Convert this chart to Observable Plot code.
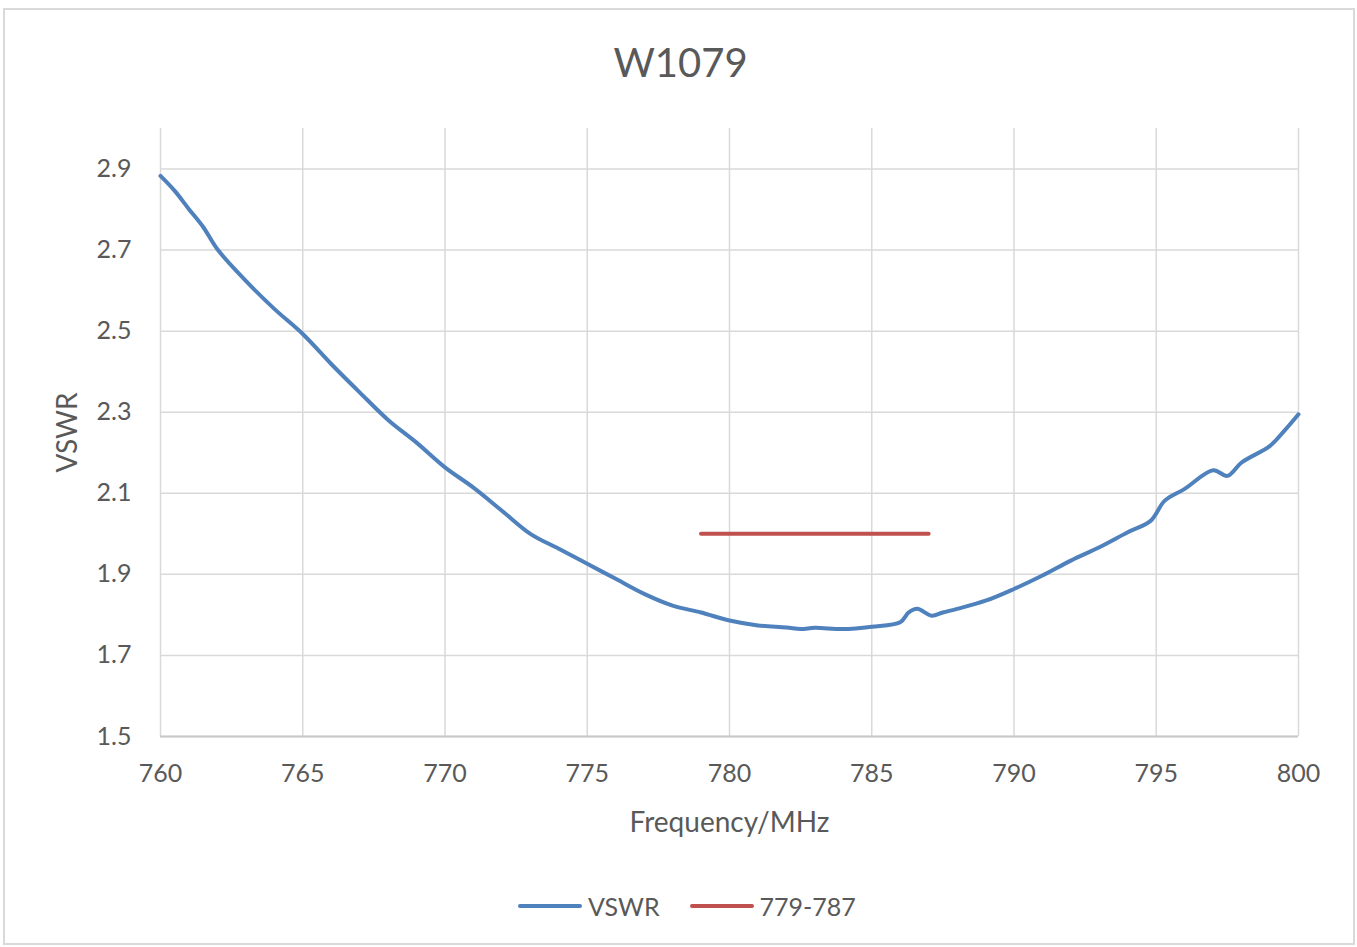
<!DOCTYPE html>
<html>
<head>
<meta charset="utf-8">
<script src="https://cdn.jsdelivr.net/npm/d3@7"></script>
<script src="https://cdn.jsdelivr.net/npm/@observablehq/plot@0.6"></script>
<style>
  html, body { margin: 0; padding: 0; background: #fff; }
  body { position: relative; width: 1357px; height: 947px; overflow: hidden; font-family: Lato, "Open Sans", sans-serif; color: #595959; }
  #frame { position: absolute; left: 3px; top: 8px; width: 1352px; height: 937px; box-sizing: border-box; border: 2px solid #d9d9d9; }
  #title { position: absolute; left: 0; top: 42px; width: 1357px; text-align: center; font-size: 40px; line-height: 40px; padding-left: 2px; }
  #chart { position: absolute; left: 0; top: 100px; }
  #legend { position: absolute; left: 518px; top: 891px; display: flex; align-items: center; font-size: 25px; line-height: 30px; }
  .sw { display: inline-block; width: 64px; height: 4px; border-radius: 2px; margin-right: 6px; }
  .item { display: flex; align-items: center; margin-right: 30px; }
</style>
</head>
<body>
<div id="frame"></div>
<div id="title">W1079</div>
<div id="chart"></div>
<div id="legend">
  <div class="item"><span class="sw" style="background:#4F81BD"></span><span>VSWR</span></div>
  <div class="item"><span class="sw" style="background:#C0504D"></span><span>779-787</span></div>
</div>
<script>
const freq = [760, 760.5, 761, 761.5, 762, 763, 764, 765, 766, 767, 768, 769, 770, 771, 772, 773, 774, 775, 776, 777, 778, 779, 780, 781, 782, 782.5, 783, 784, 785, 786, 786.3, 786.6, 787.1, 787.5, 788, 789, 790, 791, 792, 793, 794, 794.8, 795.3, 796, 797, 797.5, 798, 799, 799.5, 800];
const vswr = [2.883, 2.846, 2.801, 2.757, 2.702, 2.624, 2.555, 2.493, 2.419, 2.349, 2.281, 2.225, 2.164, 2.114, 2.057, 2.000, 1.963, 1.926, 1.889, 1.852, 1.823, 1.806, 1.786, 1.774, 1.769, 1.765, 1.768, 1.765, 1.771, 1.782, 1.806, 1.815, 1.798, 1.806, 1.815, 1.835, 1.864, 1.897, 1.934, 1.967, 2.004, 2.032, 2.082, 2.111, 2.157, 2.143, 2.176, 2.217, 2.254, 2.295];
const bandFreq = [779, 787];
const bandVswr = [2.0, 2.0];
const xTicks = [760, 765, 770, 775, 780, 785, 790, 795, 800];
const yTicks = [1.5, 1.7, 1.9, 2.1, 2.3, 2.5, 2.7, 2.9];

const vswrData = freq.map((f, i) => ({f, v: vswr[i]}));
const bandData = bandFreq.map((f, i) => ({f, v: bandVswr[i]}));

const chart = Plot.plot({
  width: 1357,
  height: 760,
  marginTop: 28,
  marginBottom: 124,
  marginLeft: 160,
  marginRight: 59,
  style: {fontFamily: "Lato, 'Open Sans', sans-serif", color: "#595959", background: "transparent", overflow: "visible"},
  x: {domain: [760, 800]},
  y: {domain: [1.5, 3.0]},
  marks: [
    Plot.gridX(xTicks, {stroke: "#d9d9d9", strokeOpacity: 1, strokeWidth: 1.5}),
    Plot.gridY(yTicks, {stroke: "#d9d9d9", strokeOpacity: 1, strokeWidth: 1.5}),
    Plot.ruleY([1.5], {stroke: "#c8c8c8", strokeWidth: 2}),
    Plot.axisX(xTicks, {tickSize: 0, tickPadding: 28, fontSize: 25, tickFormat: d => String(d),
      label: "Frequency/MHz", labelAnchor: "center", labelOffset: 95, labelArrow: "none"}),
    Plot.axisY(yTicks, {tickSize: 0, tickPadding: 29, fontSize: 25, tickFormat: d => d.toFixed(1),
      label: "VSWR", labelAnchor: "center", labelOffset: 103, labelArrow: "none"}),
    Plot.line(vswrData, {x: "f", y: "v", stroke: "#4F81BD", strokeWidth: 4, curve: "catmull-rom", strokeLinejoin: "round", strokeLinecap: "round"}),
    Plot.line(bandData, {x: "f", y: "v", stroke: "#C0504D", strokeWidth: 4, strokeLinecap: "round"})
  ]
});
document.getElementById("chart").appendChild(chart);
// Axis-title font size
chart.querySelectorAll("g[aria-label='x-axis label'] text, g[aria-label='y-axis label'] text").forEach(t => t.setAttribute("font-size", 28));
</script>
</body>
</html>
